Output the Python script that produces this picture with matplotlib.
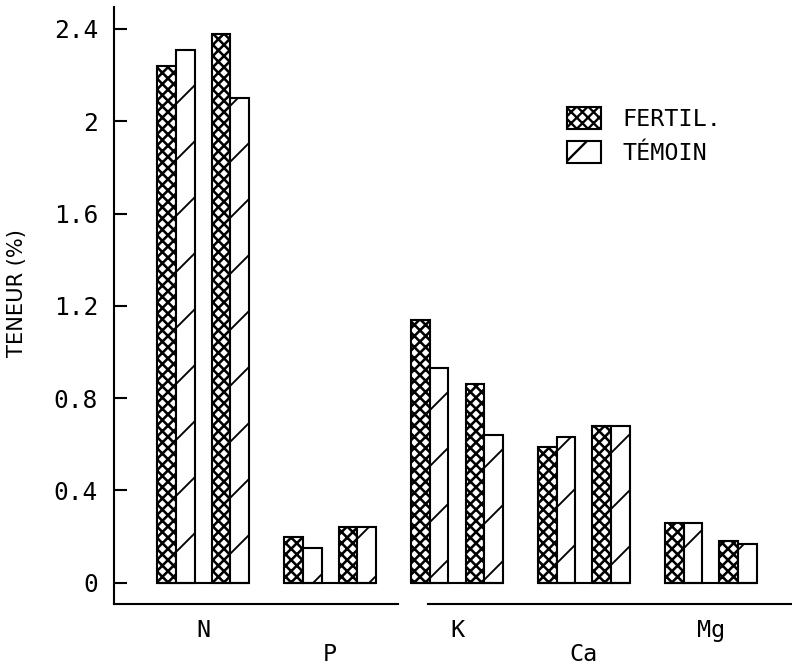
import numpy as np
import matplotlib
matplotlib.use("Agg")
import matplotlib.pyplot as plt

elements = ["N", "P", "K", "Ca", "Mg"]
fertil_1 = [2.24, 0.20, 1.14, 0.59, 0.26]
temoin_1 = [2.31, 0.15, 0.93, 0.63, 0.26]
fertil_2 = [2.38, 0.24, 0.86, 0.68, 0.18]
temoin_2 = [2.10, 0.24, 0.64, 0.68, 0.17]
yticks = [0, 0.4, 0.8, 1.2, 1.6, 2, 2.4]
ytick_labels = ["0", "0.4", "0.8", "1.2", "1.6", "2", "2.4"]

# dpi 168 so that a single "/" hatch gives the wide stripe spacing of the original
DPI = 168
plt.rcParams["font.family"] = ["DejaVu Sans Mono", "DejaVu Sans"]

fig = plt.figure(figsize=(792 / DPI, 668 / DPI), dpi=DPI)
ax = fig.add_axes([114 / 792, 64 / 668, 678 / 792, 597 / 668])

x = np.arange(len(elements))
w = 0.146
off = 0.213

for b, fv, tv in [(x - off, fertil_1, temoin_1), (x + off, fertil_2, temoin_2)]:
    with plt.rc_context({"hatch.linewidth": 1.1}):
        ax.bar(b - w, fv, width=w, align="edge", facecolor="white", edgecolor="black",
               hatch="xxxxx", linewidth=0.9, label="FERTIL.")
    with plt.rc_context({"hatch.linewidth": 0.8}):
        ax.bar(b, tv, width=w, align="edge", facecolor="white", edgecolor="black",
               hatch="/", linewidth=0.9, label="TÉMOIN")

# baseline joining the bars of a group
ax.hlines(np.zeros(len(x)), x - off - w, x + off + w, color="black", linewidth=0.9)

ax.set_xlim(-0.701, 4.638)
ax.set_ylim(-0.092, 2.495)

ax.set_yticks(yticks, ytick_labels)
ax.tick_params(axis="y", direction="in", length=5.6, width=0.9, pad=6.9, labelsize=10.5)
ax.set_xticks(x, ["N", "\nP", "K", "\nCa", "Mg"])
ax.tick_params(axis="x", length=0, pad=6.5, labelsize=10)
for lab in ax.get_xticklabels():
    lab.set_linespacing(1.05)

for s in ["top", "right", "bottom"]:
    ax.spines[s].set_visible(False)
ax.spines["left"].set_linewidth(0.9)

# bottom axis line, broken between P and K
ax.plot([0, 0.419], [0, 0], color="black", linewidth=0.9, transform=ax.transAxes, clip_on=False)
ax.plot([0.463, 1.0], [0, 0], color="black", linewidth=0.9, transform=ax.transAxes, clip_on=False)

ax.set_ylabel("TENEUR (%)", fontsize=9, family=["DejaVu Sans"], va="center")
ax.yaxis.set_label_coords(-0.143, 0.52)

handles, labels = ax.get_legend_handles_labels()
ax.legend(handles[:2], labels[:2], loc="upper left",
          bbox_to_anchor=(555 / 792, 1 - 95 / 668), bbox_transform=fig.transFigure,
          frameon=False, borderpad=0, fontsize=10, handlelength=1.46, handleheight=1.07,
          handletextpad=0.94, labelspacing=0.43)

fig.savefig("out.png", dpi=DPI)
